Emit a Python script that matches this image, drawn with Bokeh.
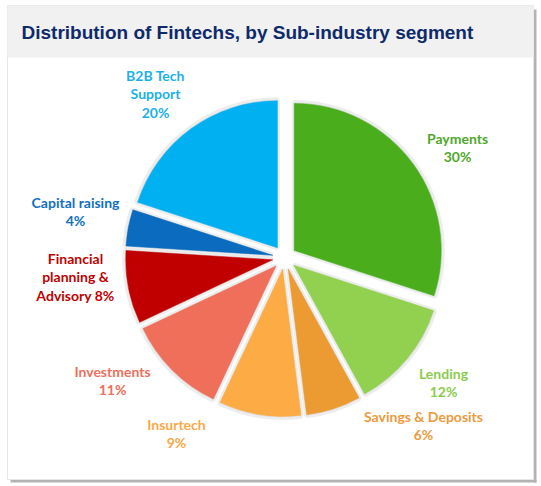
import math
from bokeh.plotting import figure
from bokeh.models import Range1d
from bokeh.core.properties import value
from bokeh.embed import file_html
from bokeh.resources import INLINE

# ---------------- data ----------------
segments = ["Payments", "Lending", "Savings & Deposits", "Insurtech",
            "Investments", "Financial planning & Advisory", "Capital raising",
            "B2B Tech Support"]
shares = [30, 12, 6, 9, 11, 8, 4, 20]
wrapped_names = ["Payments", "Lending", "Savings & Deposits", "Insurtech",
                 "Investments", "Financial\nplanning &\nAdvisory",
                 "Capital raising", "B2B Tech\nSupport"]
pct_inline = [False, False, False, False, False, True, False, False]
title = "Distribution of Fintechs, by Sub-industry segment"

# ---------------- styles ----------------
slice_colors = ["#4aae1c", "#92d050", "#ec9b33", "#fdac45",
                "#ef6f5b", "#c00000", "#0b6cbf", "#00b0f0"]
label_colors = ["#4fa82a", "#8ccc4e", "#ee9a3c", "#fba849",
                "#ee6f5c", "#c00000", "#1070c0", "#1bb0ea"]
# label block centres in page pixel coordinates
label_pos = [(457, 147), (443, 382), (423, 425), (176, 433),
             (112, 380), (75, 276), (75, 211), (155, 93)]
LINE_H = 18.5

W, H = 541, 486


def dx(sx):
    return sx


def dy(sy):
    return H - sy


p = figure(width=W, height=H, output_backend="svg", toolbar_location=None,
           x_range=Range1d(0, W), y_range=Range1d(0, H),
           min_border=0, border_fill_color="white", background_fill_color="white")
p.axis.visible = False
p.grid.visible = False
p.outline_line_color = None

# panel frame & shadow
p.quad(left=dx(533), right=dx(536), bottom=dy(482), top=dy(9), fill_color="#b3b3b3", line_color=None)
p.quad(left=dx(10), right=dx(536), bottom=dy(482), top=dy(479), fill_color="#b3b3b3", line_color=None)
p.quad(left=dx(7), right=dx(533), bottom=dy(479), top=dy(5), fill_color="white",
       line_color="#e6e6e6", line_width=1)
# title band
p.quad(left=dx(7), right=dx(533), bottom=dy(57), top=dy(5), fill_color="#f1f1f1", line_color=None)
p.text(x=[dx(21)], y=[dy(32)], text=[title], text_font=value("Liberation Sans"),
       text_font_style="bold", text_font_size="19px", text_color="#0e2a6a",
       text_baseline="middle", text_align="left")

# ---------------- pie ----------------
cx0, cy0 = dx(284), dy(257)
R = 147
EXPLODE = 12
total = float(sum(shares))
cum = 0.0
xs, ys, starts, ends = [], [], [], []
for s in shares:
    a0 = math.pi / 2 - 2 * math.pi * cum / total
    cum += s
    a1 = math.pi / 2 - 2 * math.pi * cum / total
    mid = (a0 + a1) / 2
    xs.append(cx0 + EXPLODE * math.cos(mid))
    ys.append(cy0 + EXPLODE * math.sin(mid))
    starts.append(a1)
    ends.append(a0)

# soft grey glow
p.wedge(x=xs, y=ys, radius=R + 1, start_angle=starts, end_angle=ends,
        fill_color="#dcdcdc", line_color="#dcdcdc", line_width=5, line_alpha=0.5, fill_alpha=0.8)
p.wedge(x=xs, y=ys, radius=R, start_angle=starts, end_angle=ends,
        fill_color=slice_colors, line_color=slice_colors, line_width=0.5)

# ---------------- labels ----------------
tx, ty, tt, tc = [], [], [], []
for name, s, inline, (sx, sy), col in zip(wrapped_names, shares, pct_inline, label_pos, label_colors):
    lines = name.split("\n")
    if inline:
        lines[-1] = f"{lines[-1]} {s}%"
    else:
        lines.append(f"{s}%")
    n = len(lines)
    for i, ln in enumerate(lines):
        tx.append(dx(sx))
        ty.append(dy(sy + (i - (n - 1) / 2) * LINE_H))
        tt.append(ln)
        tc.append(col)

p.text(x=tx, y=ty, text=tt, text_color=tc, text_font=value("Lato"),
       text_font_style="bold", text_font_size="14px",
       text_align="center", text_baseline="middle")

open("out.html", "w").write(file_html(p, INLINE))
